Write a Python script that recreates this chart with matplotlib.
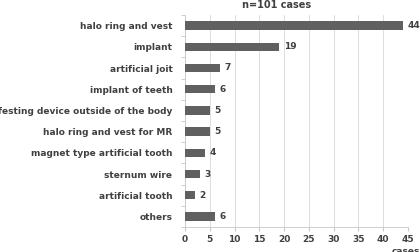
import numpy as np
from matplotlib import pyplot as plt

# Данные
labels = ["halo ring and vest", "implant", "artificial joit", "implant of teeth",
          "festing device outside of the body", "halo ring and vest for MR",
          "magnet type artificial tooth", "sternum wire", "artificial tooth", "others"]
values = [44, 19, 7, 6, 5, 5, 4, 3, 2, 6]
xticks = [0, 5, 10, 15, 20, 25, 30, 35, 40, 45]

txt = "#404040"
plt.rcParams["font.family"] = "DejaVu Sans"
plt.rcParams["font.weight"] = "bold"

fig = plt.figure(figsize=(4.2, 2.52), dpi=100)
ax = fig.add_axes([185 / 420, 1 - 227 / 252, 223 / 420, 212 / 252])

y = np.arange(len(values))
ax.barh(y, values, height=0.4, color="#606060", zorder=3)
for yi, v in zip(y, values):
    ax.text(v + 0.9, yi, str(v), va="center", ha="left", fontsize=6.5,
            fontweight="bold", color=txt)

ax.set_ylim(len(values) - 0.5, -0.5)
ax.set_xlim(0, 45)
ax.set_xticks(xticks)
ax.set_xticklabels([str(t) for t in xticks], fontsize=6.5, fontweight="bold", color=txt)
ax.set_yticks(y)
ax.set_yticklabels(labels, fontsize=6.5, fontweight="bold", color=txt)
ax.set_yticks(np.arange(-0.5, len(values), 1), minor=True)
ax.tick_params(axis="y", which="major", length=0, pad=9)
ax.tick_params(axis="y", which="minor", length=3, color="#c8c8c8", direction="out")
ax.tick_params(axis="x", length=3, color="#c8c8c8", pad=3)

ax.grid(axis="x", color="#d8d8d8", linewidth=0.6, zorder=0)
for s in ["top", "right"]:
    ax.spines[s].set_visible(False)
for s in ["left", "bottom"]:
    ax.spines[s].set_color("#c8c8c8")
    ax.spines[s].set_linewidth(0.6)

fig.text(277 / 420, 1 - 5 / 252, "n=101 cases", ha="center", va="center",
         fontsize=7, fontweight="bold", color=txt)
fig.text(392 / 420, 1 - 251 / 252, "cases", ha="left", va="center",
         fontsize=6.5, fontweight="bold", color=txt)

fig.savefig("out.png", dpi=100)
